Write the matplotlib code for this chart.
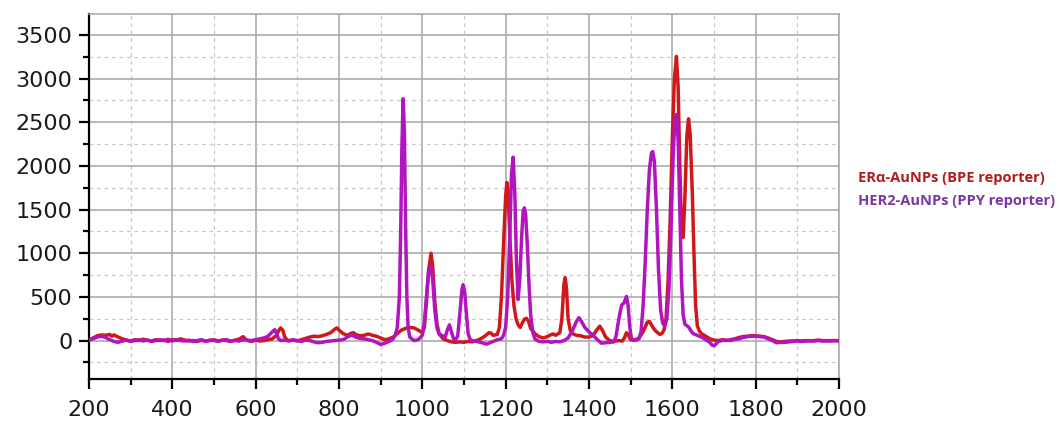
import matplotlib
matplotlib.use("Agg")
import matplotlib.pyplot as plt
from matplotlib.ticker import MultipleLocator

# ---------------- data ----------------
er_x = [200, 210, 220, 230, 240, 250, 255, 260, 270, 280, 290, 300, 310, 320, 330, 340, 350, 360, 370, 380,
        390, 400, 410, 420, 430, 440, 450, 460, 470, 480, 490, 500, 510, 520, 530, 540, 550, 560, 565, 570,
        575, 580, 590, 600, 610, 620, 630, 640, 650, 655, 660, 665, 670, 675, 680, 690, 700, 710, 720, 730,
        740, 750, 760, 770, 780, 790, 795, 800, 810, 820, 830, 835, 840, 850, 860, 870, 875, 880, 890, 900,
        910, 920, 930, 940, 950, 960, 970, 980, 990, 1000, 1005, 1010, 1015, 1021, 1025, 1030, 1035, 1040,
        1050, 1060, 1070, 1080, 1090, 1100, 1110, 1120, 1130, 1140, 1150, 1160, 1165, 1170, 1180, 1185,
        1190, 1195, 1200, 1203, 1206, 1210, 1215, 1220, 1225, 1230, 1235, 1240, 1245, 1250, 1255, 1260,
        1270, 1280, 1290, 1300, 1310, 1315, 1320, 1330, 1335, 1340, 1343, 1346, 1350, 1355, 1360, 1370,
        1380, 1390, 1400, 1410, 1420, 1426, 1432, 1440, 1450, 1460, 1470, 1480, 1485, 1490, 1495, 1500,
        1510, 1520, 1530, 1540, 1545, 1550, 1555, 1560, 1570, 1575, 1580, 1585, 1590, 1595, 1600, 1605,
        1610, 1614, 1618, 1622, 1626, 1630, 1635, 1639, 1643, 1648, 1652, 1656, 1660, 1665, 1670, 1680,
        1690, 1700, 1710, 1720, 1730, 1740, 1750, 1760, 1770, 1780, 1790, 1800, 1810, 1820, 1830, 1840,
        1850, 1860, 1870, 1880, 1890, 1900, 1910, 1920, 1930, 1940, 1950, 1960, 1970, 1980, 1990, 2000]
er_y = [10, 30, 55, 65, 60, 70, 50, 65, 40, 20, 5, -5, 10, 0, 15, 5, -5, 10, 0, 5,
        -10, 10, 5, 20, 5, -5, 0, -10, 5, -5, 0, 10, -5, 5, 0, -10, 5, 15, 30, 45,
        20, 0, -10, 5, -5, 0, 10, 20, 60, 110, 145, 120, 40, 10, 0, 5, -5, 10, 25, 40,
        50, 45, 55, 70, 90, 130, 145, 120, 80, 60, 85, 90, 70, 55, 60, 75, 70, 60, 50, 30,
        10, 20, 40, 80, 120, 140, 150, 145, 120, 90, 150, 450, 800, 1000, 850, 450, 200, 80,
        20, 0, -15, -20, -15, -20, -10, -15, 0, 20, 50, 90, 85, 60, 70, 150,
        500, 1100, 1650, 1810, 1700, 1200, 700, 400, 250, 180, 150, 200, 245, 255, 220, 140,
        80, 45, 30, 45, 70, 75, 60, 90, 250, 650, 720, 600, 250, 120, 80, 60,
        55, 40, 40, 60, 130, 165, 120, 40, 0, -10, 0, -5, 30, 90, 60, 10,
        5, 30, 100, 210, 220, 180, 140, 110, 70, 80, 120, 250, 700, 1400, 2300, 3000,
        3255, 2900, 2000, 1300, 1180, 1600, 2350, 2540, 2350, 1700, 1000, 400, 170, 110, 80, 50,
        20, 5, 0, 10, 0, 10, 20, 35, 45, 50, 55, 55, 50, 45, 30, 10,
        -10, -15, -10, -5, -5, 0, -5, 0, -5, 0, 5, 0, -5, 0, 0, -5]

her2_x = [200, 210, 220, 230, 240, 250, 260, 270, 280, 290, 300, 310, 320, 330, 340, 350, 360, 370, 380, 390,
          400, 410, 420, 430, 440, 450, 460, 470, 480, 490, 500, 510, 520, 530, 540, 550, 560, 570, 580, 590,
          600, 610, 620, 630, 640, 646, 650, 655, 660, 670, 680, 690, 700, 710, 720, 730, 740, 750, 760, 770,
          780, 790, 800, 810, 820, 830, 840, 850, 860, 870, 880, 890, 900, 910, 920, 925, 930, 935, 940, 945,
          948, 951, 954, 957, 960, 963, 966, 970, 980, 990, 1000, 1005, 1010, 1015, 1020, 1025, 1030, 1035,
          1040, 1050, 1055, 1060, 1065, 1070, 1075, 1080, 1085, 1090, 1095, 1098, 1102, 1106, 1110, 1115,
          1120, 1130, 1140, 1150, 1155, 1160, 1170, 1180, 1190, 1195, 1200, 1205, 1210, 1214, 1218, 1222,
          1226, 1230, 1234, 1238, 1242, 1245, 1248, 1252, 1256, 1260, 1265, 1270, 1280, 1290, 1300, 1310,
          1320, 1330, 1340, 1350, 1360, 1370, 1376, 1382, 1390, 1400, 1410, 1420, 1430, 1440, 1450, 1460,
          1465, 1470, 1475, 1479, 1484, 1490, 1494, 1498, 1502, 1510, 1520, 1525, 1530, 1535, 1540, 1545,
          1550, 1553, 1557, 1562, 1567, 1572, 1577, 1582, 1587, 1592, 1597, 1602, 1606, 1610, 1614, 1618,
          1622, 1626, 1630, 1635, 1640, 1645, 1650, 1660, 1670, 1680, 1690, 1695, 1700, 1705, 1710, 1720,
          1730, 1740, 1750, 1760, 1770, 1780, 1790, 1800, 1810, 1820, 1830, 1840, 1850, 1860, 1870, 1880,
          1890, 1900, 1910, 1920, 1930, 1940, 1950, 1960, 1970, 1980, 1990, 2000]
her2_y = [5, 20, 40, 50, 35, 10, -10, -20, -5, 5, -10, 0, 10, -5, 5, -10, 0, 10, 0, 15,
          -5, 10, 0, -5, 5, -10, 0, 10, -10, 5, 0, -10, 5, 10, -5, 0, -5, 10, 5, 0,
          10, 20, 30, 50, 100, 125, 80, 20, 0, 5, -5, 10, 0, -10, 5, 0, -15, -25, -20, -10,
          -5, 0, 5, 10, 40, 65, 40, 25, 20, 10, 0, -20, -45, -30, -10, 0, 20, 60, 150, 500,
          1200, 2200, 2770, 2400, 1300, 500, 150, 40, 0, 10, 60, 200, 500, 780, 850, 700, 350, 150,
          80, 50, 40, 120, 180, 100, 20, 10, 50, 300, 580, 640, 550, 300, 80, 10,
          0, -10, -20, -35, -40, -30, -10, 10, 20, 60, 150, 500, 1200, 1900, 2100, 1700,
          900, 470, 700, 1150, 1480, 1520, 1450, 1100, 650, 300, 100, 20, -10, -15, -10, -20,
          -10, -15, 0, 30, 110, 220, 262, 220, 150, 100, 60, 10, -30, -25, -20, -15,
          50, 200, 330, 410, 430, 505, 400, 150, 20, 0, 20, 100, 400, 900, 1500, 1950,
          2150, 2165, 2050, 1500, 800, 350, 200, 165, 250, 600, 1300, 2100, 2500, 2590, 2300, 1500,
          700, 300, 190, 170, 150, 110, 80, 60, 40, 10, -20, -50, -60, -40, -10, 0,
          5, 0, 15, 20, 35, 45, 50, 50, 45, 40, 20, 0, -25, -20, -20, -15,
          -10, -5, -10, -5, 0, -5, 0, -5, 0, -5, 0, 0]

legend_labels = ["ER\u03b1-AuNPs (BPE reporter)", "HER2-AuNPs (PPY reporter)"]
line_colors = ["#d0181a", "#b214c0"]
text_colors = ["#b01c1c", "#7a35a8"]

# ---------------- figure ----------------
fig = plt.figure(figsize=(10.64, 4.21), dpi=100)
ax = fig.add_axes([0.0836, 0.0998, 0.7049, 0.8669])

ax.plot(er_x, er_y, color=line_colors[0], lw=2.5, zorder=3)
ax.plot(her2_x, her2_y, color=line_colors[1], lw=2.5, zorder=4)

ax.set_xlim(200, 2000)
ax.set_ylim(-440, 3740)
ax.xaxis.set_major_locator(MultipleLocator(200))
ax.xaxis.set_minor_locator(MultipleLocator(100))
ax.yaxis.set_major_locator(MultipleLocator(500))
ax.yaxis.set_minor_locator(MultipleLocator(250))

ax.grid(which="major", color="#a6a6a6", lw=1.1, ls="-", zorder=0)
ax.grid(which="minor", color="#c8c8c8", lw=0.9, ls=(0, (3, 3)), zorder=0)

for s in ["left", "bottom"]:
    ax.spines[s].set_color("black")
    ax.spines[s].set_linewidth(1.6)
for s in ["top", "right"]:
    ax.spines[s].set_color("#a6a6a6")
    ax.spines[s].set_linewidth(1.1)

ax.tick_params(which="major", direction="out", length=7, width=1.6, color="black")
ax.tick_params(which="minor", direction="out", length=4, width=1.6, color="black")
ax.tick_params(axis="x", which="both", top=False, pad=8)
ax.tick_params(axis="y", which="both", right=False, pad=5)
for lab in ax.get_xticklabels() + ax.get_yticklabels():
    lab.set_fontsize(16)
    lab.set_family("DejaVu Sans")
    lab.set_color("#1a1a1a")

fig.text(858 / 1064, 1 - 178 / 421, legend_labels[0], color=text_colors[0],
         fontsize=10.5, fontweight="bold", family="Open Sans", va="center", ha="left")
fig.text(858 / 1064, 1 - 201 / 421, legend_labels[1], color=text_colors[1],
         fontsize=10.5, fontweight="bold", family="Open Sans", va="center", ha="left")

fig.savefig("out.png", dpi=100)
